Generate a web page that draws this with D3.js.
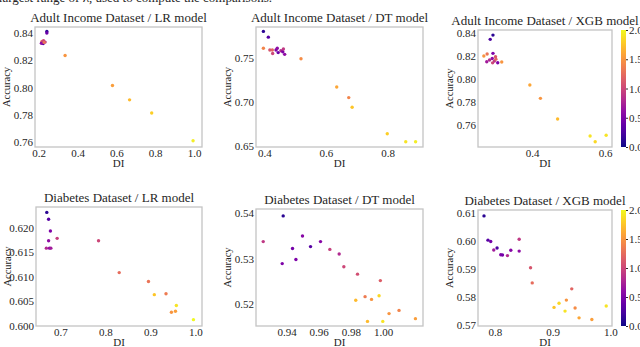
<!DOCTYPE html>
<html lang="en">
<head>
<meta charset="utf-8">
<title>Accuracy vs DI</title>
<script src="https://cdn.jsdelivr.net/npm/d3@7"></script>
<style>
  body { margin: 0; background: #fff; }
  text { font-family: "Liberation Serif", "DejaVu Serif", serif; fill: #262626; }
</style>
</head>
<body>
<svg id="chart" width="640" height="347"></svg>
<script>
// each point: [DI, accuracy, lambda]
const adultLR = [
  [0.242, 0.8407, 0.1], [0.242, 0.8396, 0.4], [0.217, 0.8335, 1.2], [0.225, 0.8340, 1.0],
  [0.233, 0.8330, 0.9], [0.223, 0.8320, 0.3], [0.214, 0.8322, 0.6], [0.228, 0.8328, 1.3],
  [0.336, 0.8233, 1.5], [0.580, 0.8014, 1.55], [0.668, 0.7910, 1.7], [0.782, 0.7814, 1.8],
  [0.995, 0.7612, 1.95]
];
const adultDT = [
  [0.397, 0.780, 0.1], [0.413, 0.7735, 0.3], [0.397, 0.761, 1.4], [0.418, 0.759, 1.1],
  [0.426, 0.759, 1.2], [0.427, 0.755, 1.0], [0.438, 0.759, 0.5], [0.442, 0.761, 0.6],
  [0.445, 0.756, 0.4], [0.454, 0.758, 0.8], [0.460, 0.757, 0.5], [0.462, 0.760, 0.9],
  [0.466, 0.754, 0.6], [0.519, 0.749, 1.45], [0.635, 0.717, 1.6], [0.674, 0.705, 1.4],
  [0.685, 0.694, 1.75], [0.799, 0.664, 1.8], [0.859, 0.655, 1.9], [0.891, 0.655, 1.95]
];
const adultXGB = [
  [0.293, 0.8378, 0.1], [0.2855, 0.8341, 0.25], [0.293, 0.822, 0.5], [0.268, 0.8197, 1.5],
  [0.277, 0.8214, 1.3], [0.300, 0.819, 1.1], [0.291, 0.8175, 0.6], [0.2836, 0.8162, 0.8],
  [0.276, 0.8147, 0.7], [0.292, 0.8138, 1.0], [0.297, 0.8153, 0.9], [0.306, 0.8139, 0.5],
  [0.317, 0.8145, 1.5], [0.301, 0.8170, 1.2], [0.394, 0.7946, 1.6], [0.423, 0.7831, 1.5],
  [0.470, 0.7652, 1.7], [0.559, 0.7505, 1.9], [0.573, 0.7456, 1.85], [0.603, 0.7511, 1.9]
];
const diabLR = [
  [0.670, 0.6231, 0.1], [0.674, 0.6217, 0.3], [0.678, 0.6193, 0.5], [0.674, 0.6173, 0.6],
  [0.669, 0.6158, 0.8], [0.676, 0.6158, 0.6], [0.679, 0.6158, 0.7], [0.693, 0.6178, 0.95],
  [0.785, 0.6173, 1.0], [0.831, 0.6108, 1.25], [0.896, 0.6090, 1.3], [0.909, 0.6063, 1.75],
  [0.935, 0.6065, 1.35], [0.958, 0.6041, 1.9], [0.947, 0.6027, 1.5], [0.956, 0.6029, 1.55],
  [0.996, 0.6012, 2.0]
];
const diabDT = [
  [0.9255, 0.5337, 0.9], [0.9379, 0.5393, 0.1], [0.9373, 0.5289, 0.5], [0.9437, 0.5322, 0.45],
  [0.9458, 0.5298, 0.5], [0.9499, 0.5349, 0.55], [0.9549, 0.5326, 0.3], [0.9611, 0.5337, 0.55],
  [0.9669, 0.5320, 0.95], [0.9727, 0.5310, 0.8], [0.9756, 0.5282, 1.0], [0.9841, 0.5266, 1.05],
  [0.9983, 0.5252, 1.15], [0.9830, 0.5209, 1.7], [0.9888, 0.5217, 1.35], [0.9928, 0.5211, 1.5],
  [0.9975, 0.5219, 1.85], [0.9903, 0.5163, 1.7], [0.9998, 0.5163, 1.9], [1.0037, 0.5180, 1.5],
  [1.0099, 0.5187, 1.4], [1.0201, 0.5169, 1.55]
];
const diabXGB = [
  [0.7814, 0.6089, 0.1], [0.7883, 0.6003, 0.3], [0.793, 0.5998, 0.45], [0.7983, 0.5968, 0.7],
  [0.804, 0.5975, 0.25], [0.8104, 0.5951, 0.5], [0.8134, 0.5950, 0.45], [0.822, 0.5948, 0.8],
  [0.8278, 0.5967, 0.55], [0.8423, 0.6006, 0.9], [0.8423, 0.5964, 0.6], [0.8620, 0.5905, 1.1],
  [0.8649, 0.5851, 1.25], [0.9333, 0.5830, 1.2], [0.9026, 0.5764, 1.75], [0.9113, 0.5779, 1.85],
  [0.924, 0.5790, 1.5], [0.9217, 0.5751, 1.9], [0.9391, 0.5762, 1.45], [0.946, 0.5727, 1.6],
  [0.9681, 0.5721, 1.55], [0.993, 0.5769, 1.9]
];

const titles = [
  "Adult Income Dataset / LR model", "Adult Income Dataset / DT model", "Adult Income Dataset / XGB model",
  "Diabetes Dataset / LR model", "Diabetes Dataset / DT model", "Diabetes Dataset / XGB model"
];
const xTickVals = [[0.2, 0.4, 0.6, 0.8, 1.0], [0.4, 0.6, 0.8], [0.4, 0.6],
                   [0.7, 0.8, 0.9, 1.0], [0.94, 0.96, 0.98, 1.00], [0.8, 0.9, 1.0]];
const yTickVals = [[0.76, 0.78, 0.80, 0.82, 0.84], [0.65, 0.70, 0.75], [0.76, 0.78, 0.80, 0.82, 0.84],
                   [0.600, 0.605, 0.610, 0.615, 0.620], [0.52, 0.53, 0.54], [0.57, 0.58, 0.59, 0.60, 0.61]];
const xFormats = [".1f", ".1f", ".1f", ".1f", ".2f", ".1f"];
const yFormats = [".2f", ".2f", ".2f", ".3f", ".2f", ".2f"];
const xDomains = [[0.181, 1.041], [0.373, 0.915], [0.252, 0.619], [0.646, 1.015], [0.921, 1.0248], [0.771, 1.003]];
const yDomains = [[0.7567, 0.844], [0.649, 0.785], [0.741, 0.8422], [0.5999, 0.6242], [0.5153, 0.5408], [0.5698, 0.611]];
const lambdaTicks = [0.0, 0.5, 1.0, 1.5, 2.0];

const datasets = [adultLR, adultDT, adultXGB, diabLR, diabDT, diabXGB];
// frame boxes [left, top, right, bottom]
const boxes = [[35, 27, 202, 147], [256, 27, 423, 147], [478, 30, 612, 147],
               [36, 207, 202, 326], [256, 209, 423, 326], [478, 210, 612, 326]];

const serif = '"Liberation Serif", "DejaVu Serif", serif';
const svg = d3.select("#chart");
const color = d3.scaleSequential(d3.interpolatePlasma).domain([0, 2]);

// cut-off caption line at the very top
svg.append("text")
  .attr("x", 272).attr("y", 2)
  .attr("text-anchor", "end")
  .style("font-size", "13px")
  .text("the largest range of λ, used to compute the comparisons.");

// gradient for colorbars
const grad = svg.append("defs").append("linearGradient")
  .attr("id", "plasma").attr("x1", 0).attr("y1", 1).attr("x2", 0).attr("y2", 0);
d3.range(0, 1.0001, 0.1).forEach(t => {
  grad.append("stop").attr("offset", t).attr("stop-color", d3.interpolatePlasma(t));
});

datasets.forEach((data, i) => {
  const [l, t, r, b] = boxes[i];
  const x = d3.scaleLinear().domain(xDomains[i]).range([l, r]);
  const y = d3.scaleLinear().domain(yDomains[i]).range([b, t]);
  const g = svg.append("g");

  g.append("g")
    .attr("transform", `translate(0,${b})`)
    .call(d3.axisBottom(x).tickValues(xTickVals[i]).tickFormat(d3.format(xFormats[i])).tickSize(0).tickPadding(2))
    .attr("font-family", serif).attr("font-size", 11)
    .call(a => a.select(".domain").remove());

  g.append("g")
    .attr("transform", `translate(${l},0)`)
    .call(d3.axisLeft(y).tickValues(yTickVals[i]).tickFormat(d3.format(yFormats[i])).tickSize(0).tickPadding(2))
    .attr("font-family", serif).attr("font-size", 11)
    .call(a => a.select(".domain").remove());

  g.append("rect")
    .attr("x", l).attr("y", t).attr("width", r - l).attr("height", b - t)
    .attr("fill", "none").attr("stroke", "#c4c4c4").attr("stroke-width", 1.3);

  g.selectAll("circle")
    .data(data)
    .enter().append("circle")
    .attr("cx", d => x(d[0]))
    .attr("cy", d => y(d[1]))
    .attr("r", 1.7)
    .attr("fill", d => color(d[2]));

  g.append("text")
    .attr("x", (l + r) / 2).attr("y", t - 5)
    .attr("text-anchor", "middle")
    .style("font-size", "13px")
    .text(titles[i]);

  g.append("text")
    .attr("x", (l + r) / 2).attr("y", b + 19.5)
    .attr("text-anchor", "middle")
    .style("font-size", "11px")
    .text("DI");

  g.append("text")
    .attr("transform", `translate(${l - 25},${(t + b) / 2}) rotate(-90)`)
    .attr("text-anchor", "middle")
    .style("font-size", "10.5px")
    .text("Accuracy");

  if (i % 3 === 2) {
    const cb = d3.scaleLinear().domain([0, 2]).range([b, t]);
    g.append("rect")
      .attr("x", 621).attr("y", t).attr("width", 5).attr("height", b - t)
      .attr("fill", "url(#plasma)");
    g.append("g")
      .attr("transform", "translate(626,0)")
      .call(d3.axisRight(cb).tickValues(lambdaTicks).tickFormat(d3.format(".1f")).tickSize(2).tickPadding(1))
      .attr("font-family", serif).attr("font-size", 11)
      .call(a => a.select(".domain").remove())
      .call(a => a.selectAll("line").attr("stroke", "#262626"));
  }
});
</script>
</body>
</html>
